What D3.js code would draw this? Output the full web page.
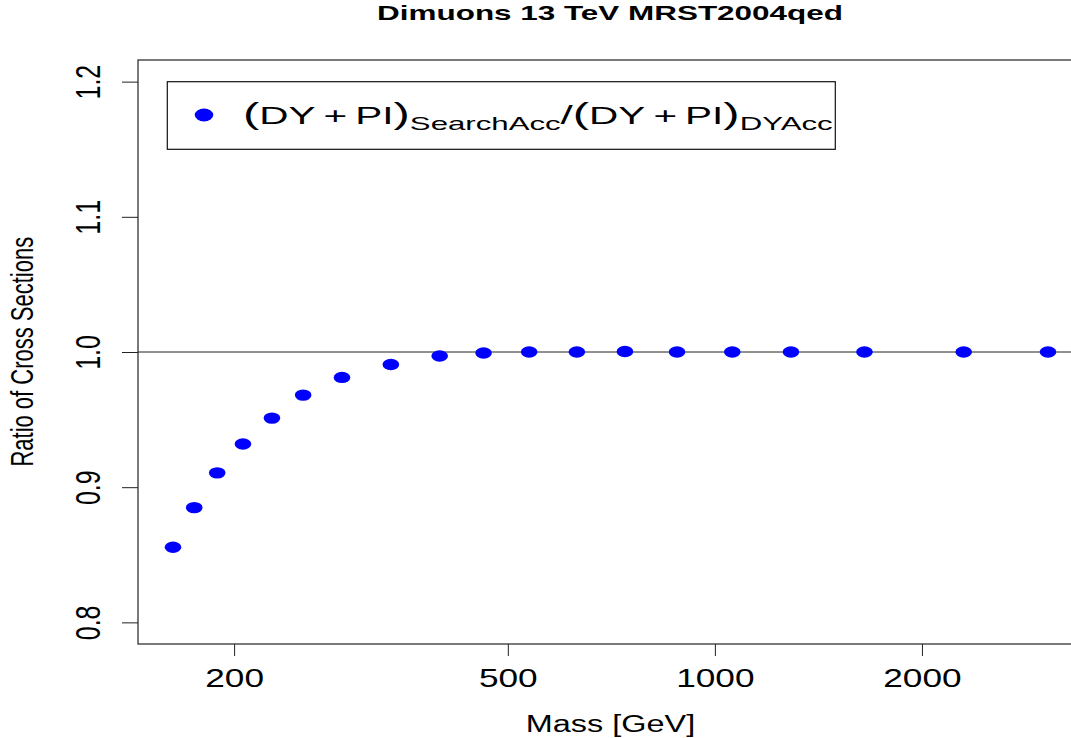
<!DOCTYPE html>
<html>
<head>
<meta charset="utf-8">
<script src="https://cdnjs.cloudflare.com/ajax/libs/d3/7.8.5/d3.min.js"></script>
<style>
  body { margin: 0; background: #fff; }
  svg { display: block; }
</style>
</head>
<body>
<div id="plot"></div>
<script>
// values
const mass = [163, 175, 189, 206, 227, 252, 287, 338, 398, 461, 537, 630, 740, 881, 1060, 1290, 1650, 2300, 3050];
const ratio = [0.8556, 0.8849, 0.9106, 0.9319, 0.9511, 0.9681, 0.9812, 0.9908, 0.9970, 0.9993, 1.0000, 1.0000, 1.0004, 1.0000, 1.0000, 1.0000, 1.0000, 1.0000, 1.0000];
const xTicks = [200, 500, 1000, 2000];
const yTicks = [0.8, 0.9, 1.0, 1.1, 1.2];
const yLimits = [0.8, 1.2];
const refLine = 1.0;
const titleText = "Dimuons 13 TeV MRST2004qed";
const xLabel = "Mass [GeV]";
const yLabel = "Ratio of Cross Sections";

const w = 1071;
const h = 738;
const FONT = "'Liberation Sans', Arial, Helvetica, sans-serif";
const SX = 1.41; // the picture is stretched sideways
const plot = {left: 138, right: 1083, top: 60, bottom: 644};

const svg = d3.select("#plot")
              .append("svg")
              .attr("width", w)
              .attr("height", h)
              .attr("font-family", FONT);

// R style 4% padding (x in log space)
const lx = d3.extent(mass, d => Math.log10(d));
const padX = (lx[1] - lx[0]) * 0.04;
const padY = (yLimits[1] - yLimits[0]) * 0.04;

const xScale = d3.scaleLog()
                 .domain([Math.pow(10, lx[0] - padX), Math.pow(10, lx[1] + padX)])
                 .range([plot.left, plot.right]);
const yScale = d3.scaleLinear()
                 .domain([yLimits[0] - padY, yLimits[1] + padY])
                 .range([plot.bottom, plot.top]);

// axes
svg.append("g")
   .attr("transform", "translate(0," + plot.bottom + ")")
   .call(d3.axisBottom(xScale).tickValues(xTicks).tickFormat(d3.format("d")).tickSize(12))
   .attr("font-family", FONT)
   .attr("font-size", 25)
   .call(g => g.select(".domain").remove())
   .call(g => g.selectAll(".tick line").attr("stroke", "#222"))
   .call(g => g.selectAll(".tick text")
               .attr("y", null).attr("dy", null).attr("fill", "#000")
               .attr("transform", "translate(0,42.7) scale(" + SX + ",1)"));

svg.append("g")
   .attr("transform", "translate(" + plot.left + ",0)")
   .call(d3.axisLeft(yScale).tickValues(yTicks).tickFormat(d3.format(".1f")).tickSize(16))
   .attr("font-family", FONT)
   .attr("font-size", 25)
   .call(g => g.select(".domain").remove())
   .call(g => g.selectAll(".tick line").attr("stroke", "#222"))
   .call(g => g.selectAll(".tick text")
               .attr("x", null).attr("dy", null).attr("fill", "#000")
               .attr("text-anchor", "middle")
               .attr("transform", "translate(-38,0) scale(" + SX + ",1) rotate(-90)"));

// reference line
svg.append("line")
   .attr("x1", plot.left)
   .attr("x2", plot.right)
   .attr("y1", yScale(refLine))
   .attr("y2", yScale(refLine))
   .attr("stroke", "#222")
   .attr("stroke-width", 1);

// points
svg.append("g")
   .selectAll("ellipse")
   .data(mass)
   .enter()
   .append("ellipse")
   .attr("cx", d => xScale(d))
   .attr("cy", (d, i) => yScale(ratio[i]))
   .attr("rx", 8.3)
   .attr("ry", 5.7)
   .attr("fill", "#0000ff");

// box
svg.append("rect")
   .attr("x", plot.left)
   .attr("y", plot.top)
   .attr("width", plot.right - plot.left)
   .attr("height", plot.bottom - plot.top)
   .attr("fill", "none")
   .attr("stroke", "#222")
   .attr("stroke-width", 1.2);

// fit a text to a given width by stretching it sideways
function fit(sel, width) {
  const len = sel.node().getBBox().width;
  return width / len;
}

// title
const title = svg.append("text")
   .attr("text-anchor", "middle")
   .attr("font-weight", "bold")
   .attr("font-size", 20)
   .text(titleText);
title.attr("transform", "translate(610,19.5) scale(" + fit(title, 466) + ",1)");

// axis titles
svg.append("text")
   .attr("text-anchor", "middle")
   .attr("font-size", 23)
   .attr("transform", "translate(610.5,731.5) scale(" + SX + ",1)")
   .text(xLabel);

svg.append("text")
   .attr("text-anchor", "middle")
   .attr("font-size", 22)
   .attr("transform", "translate(33,351.7) scale(" + SX + ",1) rotate(-90)")
   .text(yLabel);

// legend
svg.append("rect")
   .attr("x", 167.3)
   .attr("y", 81.7)
   .attr("width", 668)
   .attr("height", 67.6)
   .attr("fill", "#fff")
   .attr("stroke", "#111")
   .attr("stroke-width", 1.2);

svg.append("ellipse")
   .attr("cx", 204)
   .attr("cy", 115)
   .attr("rx", 9.3)
   .attr("ry", 6.5)
   .attr("fill", "#0000ff");

const leg = svg.append("text").attr("font-size", 24);
const parts = [
  {t: "(", size: 29, dy: 0},
  {t: "DY\u2009+\u2009PI", size: 24, dy: 0},
  {t: ")", size: 29, dy: 0},
  {t: "SearchAcc", size: 18.5, dy: 6},
  {t: "/", size: 26, dy: -6},
  {t: "(", size: 29, dy: 0},
  {t: "DY\u2009+\u2009PI", size: 24, dy: 0},
  {t: ")", size: 29, dy: 0},
  {t: "DYAcc", size: 18.5, dy: 6}
];
leg.selectAll("tspan")
   .data(parts)
   .enter()
   .append("tspan")
   .attr("font-size", d => d.size)
   .attr("dy", d => d.dy)
   .text(d => d.t);
leg.attr("transform", "translate(243,124) scale(" + fit(leg, 590) + ",1)");
</script>
</body>
</html>
